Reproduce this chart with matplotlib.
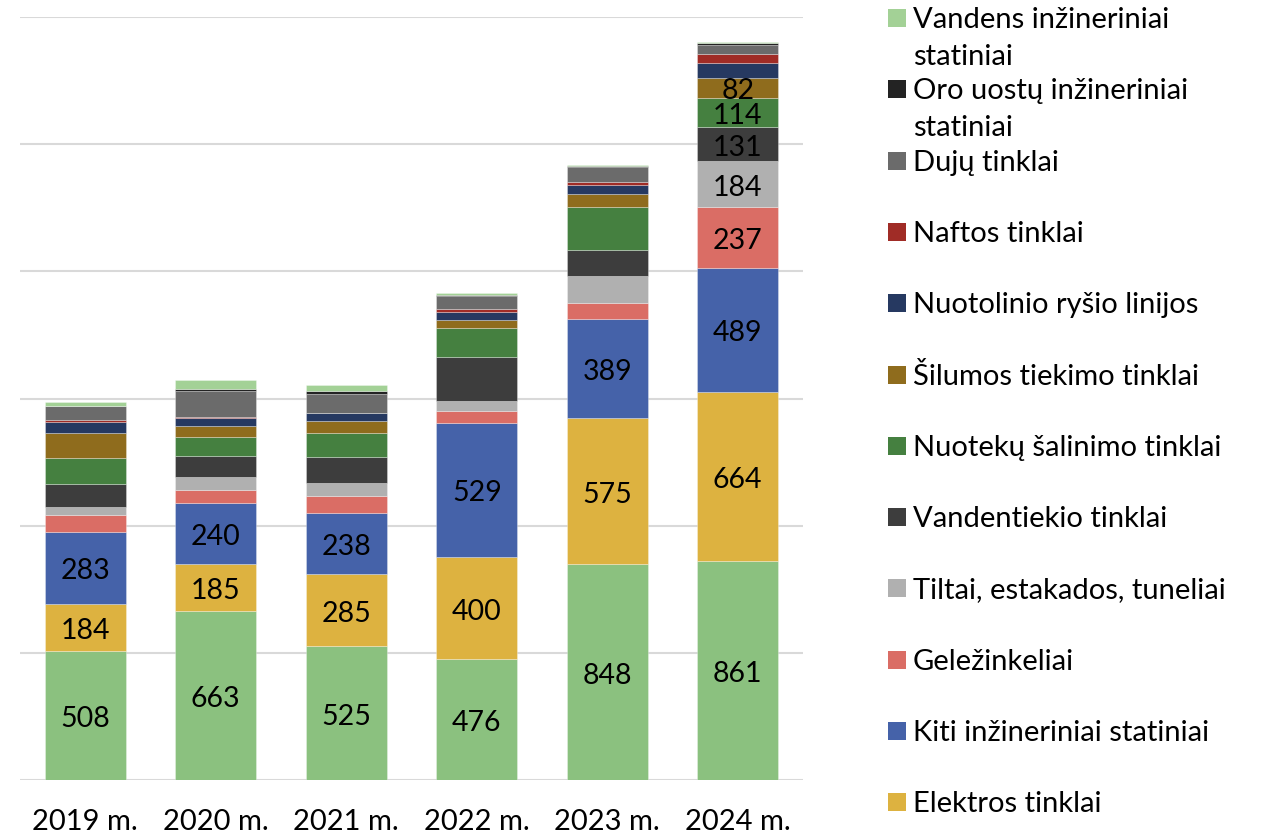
import matplotlib
matplotlib.use("Agg")
import matplotlib.pyplot as plt
from matplotlib.patches import Rectangle
import numpy as np

years = ["2019 m.", "2020 m.", "2021 m.", "2022 m.", "2023 m.", "2024 m."]

# series, bottom to top
keliai        = [508, 663, 525, 476, 848, 861]
elektros      = [184, 185, 285, 400, 575, 664]
kiti          = [283, 240, 238, 529, 389, 489]
gelezinkeliai = [67, 52, 68, 46, 63, 237]
tiltai        = [30, 50, 50, 39, 107, 184]
vandentiekio  = [92, 83, 105, 174, 102, 131]
nuoteku       = [102, 75, 94, 113, 169, 114]
silumos       = [100, 45, 46, 30, 50, 82]
nuotolinio    = [42, 30, 31, 35, 35, 59]
naftos        = [8, 3, 0, 10, 14, 35]
duju          = [54, 102, 77, 50, 59, 33]
oro_uostu     = [0, 10, 9, 5, 4, 9]
vandens       = [17, 35, 26, 8, 5, 4]

series_names = ["Keliai", "Elektros tinklai", "Kiti inžineriniai statiniai", "Geležinkeliai",
                "Tiltai, estakados, tuneliai", "Vandentiekio tinklai", "Nuotekų šalinimo tinklai",
                "Šilumos tiekimo tinklai", "Nuotolinio ryšio linijos", "Naftos tinklai",
                "Dujų tinklai", "Oro uostų inžineriniai\nstatiniai", "Vandens inžineriniai\nstatiniai"]
series_values = [keliai, elektros, kiti, gelezinkeliai, tiltai, vandentiekio, nuoteku,
                 silumos, nuotolinio, naftos, duju, oro_uostu, vandens]
colors = ["#8BC17F", "#DDB240", "#4562A9", "#DA6D65", "#B0B0B0", "#3D3D3D", "#458040",
          "#8F6C1D", "#263961", "#A02C26", "#6B6B6B", "#232323", "#A3D196"]

# which series get value labels (per bar index)
labelled_all = {0, 1, 2}
labelled_2024 = {3, 4, 5, 6, 7}

W, H = 1263, 835
fig = plt.figure(figsize=(W / 100, H / 100), dpi=100)
plt.rcParams['font.family'] = ['Lato', 'DejaVu Sans']
ax = fig.add_axes([20 / W, (H - 780) / H, (803 - 20) / W, (780 - 17) / H])

x = np.arange(len(years))
bottom = np.zeros(len(years))
for si, (vals, col) in enumerate(zip(series_values, colors)):
    vals = np.array(vals, dtype=float)
    ax.bar(x, vals, width=0.62, bottom=bottom, color=col, edgecolor=(1, 1, 1, 0.35),
           linewidth=0.6, zorder=3)
    for i in range(len(years)):
        if si in labelled_all or (i == len(years) - 1 and si in labelled_2024):
            ax.annotate(f"{int(vals[i])}", (x[i], bottom[i] + vals[i] / 2),
                        xytext=(0, -2.5), textcoords='offset points',
                        ha='center', va='center', fontsize=20.5, color='black', zorder=4)
    bottom += vals

ax.set_xlim(-0.5, len(years) - 0.5)
ax.set_ylim(0, 3000)
ax.set_yticks(np.arange(0, 3001, 500))
ax.set_yticklabels([])
ax.tick_params(axis='y', length=0)
ax.grid(axis='y', color='#D9D9D9', linewidth=1.5, zorder=0)
for s in ax.spines.values():
    s.set_visible(False)
ax.set_xticks(x)
ax.set_xticklabels(years, fontsize=21)
ax.tick_params(axis='x', length=0, pad=21)

# legend (top to bottom), Keliai entry falls below the visible area
legend_order = list(range(len(series_names) - 1, 0, -1))
y0 = 18
step = 71.3
for k, si in enumerate(legend_order):
    yc = y0 + k * step
    fig.patches.append(Rectangle((888 / W, 1 - (yc + 9) / H), 18 / W, 18 / H,
                                 transform=fig.transFigure, facecolor=colors[si],
                                 edgecolor='none'))
    for li, line in enumerate(series_names[si].split("\n")):
        fig.text(913 / W, 1 - (yc + 10 + li * 37) / H, line, fontsize=21,
                 va='baseline', ha='left', color='black')

fig.savefig("out.png", dpi=100)
